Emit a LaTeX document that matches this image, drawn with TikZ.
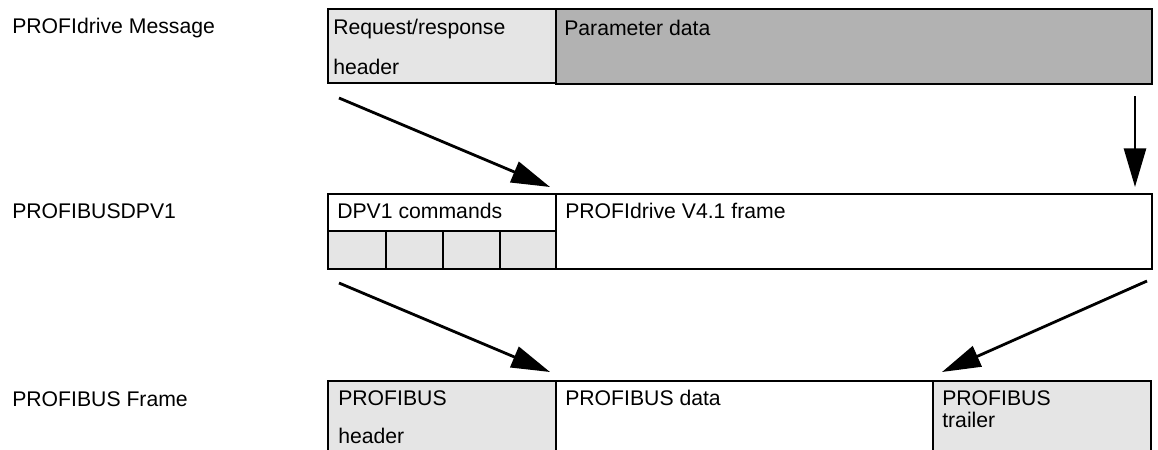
\documentclass[tikz,border=0pt]{standalone}
\usepackage{fontspec}
\setmainfont{Liberation Sans}
\usetikzlibrary{positioning,arrows.meta,fit}

\begin{document}
\begin{tikzpicture}[
  x=0.75pt, y=-0.75pt,
  box/.style={rectangle, draw, line width=0.9pt, inner sep=0pt},
  lgtbox/.style={box, fill=black!10},
  drkbox/.style={box, fill=black!30},
  whtbox/.style={box, fill=white},
  txt/.style={inner sep=0pt, anchor=base west, align=left,
    font=\fontsize{15.9}{16}\selectfont},
  arr/.style={-{Triangle[length=29pt, width=16.5pt]}, line width=2.1pt}
]
\useasboundingbox (0,0) rectangle (1158,450);

% Top lane: PROFIdrive message
\node[txt] (lmsg) at (12,33) {PROFIdrive Message};
\node[lgtbox, fit={(328,9)(556,83)}] (req) {};
\node[drkbox, fit={(556,9)(1152,84)}] (par) {};
\node[txt, font=\fontsize{15.9}{29.3}\selectfont] (reqt) at (333,74) {Request/response\\header};
\node[txt] (part) at (564,35) {Parameter data};

% Middle lane: DPV1
\node[txt] (ldpv) at (12,218) {PROFIBUSDPV1};
\node[whtbox, fit={(328,194)(556,269)}] (cmd) {};
\node[whtbox, fit={(556,194)(1152,269)}] (frm) {};
\foreach \xa/\xb in {328/386, 386/443, 443/500, 500/556}
  \node[lgtbox, fit={(\xa,231)(\xb,269)}] {};
\node[txt] (cmdt) at (337,218) {DPV1 commands};
\node[txt] (frmt) at (565,218) {PROFIdrive V4.1 frame};

% Bottom lane: PROFIBUS frame
\node[txt] (lbus) at (12,406) {PROFIBUS Frame};
\node[lgtbox, fit={(328,381)(556,462)}] (hdr) {};
\node[whtbox, fit={(556,381)(933,462)}] (dat) {};
\node[lgtbox, fit={(933,381)(1151,462)}] (trl) {};
\node[txt, font=\fontsize{15.9}{28.5}\selectfont] (hdrt) at (338,443) {PROFIBUS\\header};
\node[txt] (datt) at (565,405) {PROFIBUS data};
\node[txt, font=\fontsize{15.9}{15.8}\selectfont] (trlt) at (942,427) {PROFIBUS\\trailer};

% arrow ends
\coordinate (a1) at (339,98);   \coordinate (b1) at (550,187);
\coordinate (a2) at (1135,96);  \coordinate (b2) at (1135,187);
\coordinate (a3) at (339,283);  \coordinate (b3) at (550,372);
\coordinate (a4) at (1147,281); \coordinate (b4) at (942,372);

\draw[arr] (a1) -- (b1);
\draw[arr] (a2) -- (b2);
\draw[arr] (a3) -- (b3);
\draw[arr] (a4) -- (b4);

\end{tikzpicture}
\end{document}
